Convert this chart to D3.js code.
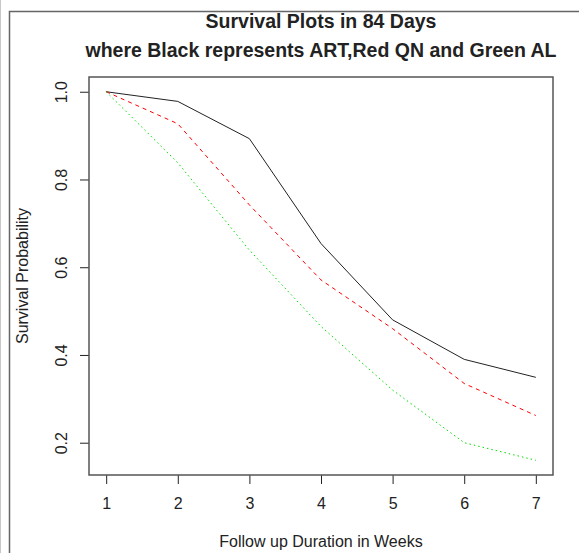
<!DOCTYPE html>
<html>
<head>
<meta charset="utf-8">
<script src="https://cdn.jsdelivr.net/npm/d3@7"></script>
<style>
  body { margin: 0; background: #fff; }
  svg text { font-family: "Liberation Sans", Arial, sans-serif; fill: #222; }
</style>
</head>
<body>
<svg id="chart"></svg>
<script>
const width = 579;
const height = 553;

// follow up weeks
const weeks = [1, 2, 3, 4, 5, 6, 7];
// survival probability per arm
const art = [1.0, 0.978, 0.893, 0.654, 0.48, 0.39, 0.349];
const qn = [1.0, 0.927, 0.742, 0.571, 0.46, 0.335, 0.262];
const al = [1.0, 0.838, 0.639, 0.465, 0.32, 0.2, 0.16];
const yTicks = [0.2, 0.4, 0.6, 0.8, 1.0];

const plot = { left: 89, right: 553, top: 77, bottom: 475 };

const svg = d3.select("#chart").attr("width", width).attr("height", height);

// outer frame bits
svg.append("line")
  .attr("x1", 0.5).attr("x2", 0.5).attr("y1", 0).attr("y2", height)
  .attr("stroke", "#c8c8c8");
svg.append("path")
  .attr("d", `M9.5,${height} V11.5 H${width}`)
  .attr("fill", "none")
  .attr("stroke", "#666")
  .attr("stroke-width", 1.5);

// R style 4% padding on each side
const xPad = (7 - 1) * 0.04;
const allY = art.concat(qn, al);
const yMin = d3.min(allY), yMax = d3.max(allY);
const yPad = (yMax - yMin) * 0.04;

const x = d3.scaleLinear()
  .domain([1 - xPad, 7 + xPad])
  .range([plot.left, plot.right]);
const y = d3.scaleLinear()
  .domain([yMin - yPad, yMax + yPad])
  .range([plot.bottom, plot.top]);

// x axis
const xAxis = svg.append("g")
  .attr("transform", `translate(0,${plot.bottom})`)
  .call(d3.axisBottom(x).tickValues(weeks).tickSize(9).tickPadding(14).tickFormat(d3.format("d")));
xAxis.select(".domain").remove();
xAxis.selectAll("line").attr("stroke", "#222");
xAxis.selectAll("text").style("font-size", "16px").attr("fill", "#222");

// y axis, labels rotated like R
const yAxis = svg.append("g")
  .attr("transform", `translate(${plot.left},0)`)
  .call(d3.axisLeft(y).tickValues(yTicks).tickSize(9).tickFormat(d3.format(".1f")));
yAxis.select(".domain").remove();
yAxis.selectAll("line").attr("stroke", "#222");
yAxis.selectAll("text")
  .style("font-size", "16px")
  .attr("fill", "#222")
  .attr("x", null).attr("dy", null)
  .attr("text-anchor", "middle")
  .attr("transform", "translate(-22,0) rotate(-90)");

// plot box
svg.append("rect")
  .attr("x", plot.left).attr("y", plot.top)
  .attr("width", plot.right - plot.left)
  .attr("height", plot.bottom - plot.top)
  .attr("fill", "none")
  .attr("stroke", "#555")
  .attr("stroke-width", 1.5);

const line = d3.line()
  .x((d, i) => x(weeks[i]))
  .y(d => y(d));

const series = [
  { values: art, color: "#222", dash: null },
  { values: qn, color: "#ff0000", dash: "4,4" },
  { values: al, color: "#00dd00", dash: "1.5,3" }
];

svg.selectAll(".series")
  .data(series)
  .enter()
  .append("path")
  .classed("series", true)
  .attr("d", d => line(d.values))
  .attr("fill", "none")
  .attr("stroke", d => d.color)
  .attr("stroke-width", 1)
  .attr("stroke-dasharray", d => d.dash);

// titles
const cx = (plot.left + plot.right) / 2;
svg.append("text")
  .attr("x", cx).attr("y", 28)
  .attr("text-anchor", "middle")
  .style("font-size", "19.5px").style("font-weight", "bold")
  .attr("fill", "#000")
  .text("Survival Plots in 84 Days");
svg.append("text")
  .attr("x", cx).attr("y", 57)
  .attr("text-anchor", "middle")
  .style("font-size", "19.5px").style("font-weight", "bold")
  .attr("fill", "#000")
  .text("where Black represents ART,Red QN and Green AL");

svg.append("text")
  .attr("x", cx).attr("y", 547)
  .attr("text-anchor", "middle")
  .style("font-size", "16px")
  .text("Follow up Duration in Weeks");

svg.append("text")
  .attr("transform", `translate(28,${(plot.top + plot.bottom) / 2}) rotate(-90)`)
  .attr("text-anchor", "middle")
  .style("font-size", "16px")
  .text("Survival Probability");
</script>
</body>
</html>
